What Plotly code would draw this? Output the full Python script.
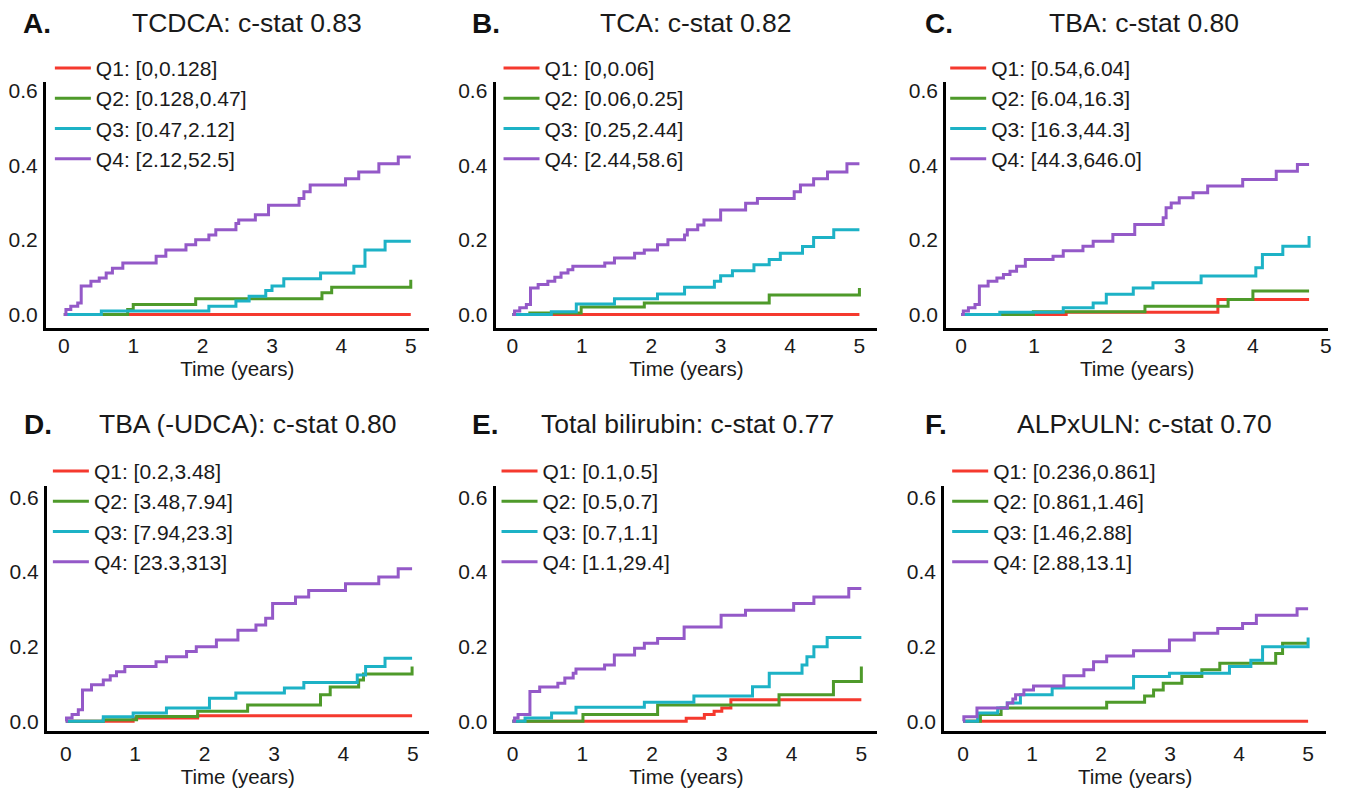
import plotly.graph_objects as go

# ---------------- data ----------------
panel_letters = ["A.", "B.", "C.", "D.", "E.", "F."]
panel_titles = ["TCDCA: c-stat 0.83", "TCA: c-stat 0.82", "TBA: c-stat 0.80",
                "TBA (-UDCA): c-stat 0.80", "Total bilirubin: c-stat 0.77", "ALPxULN: c-stat 0.70"]
quartile_names = ["Q1", "Q2", "Q3", "Q4"]
x_ticks = [0, 1, 2, 3, 4, 5]
y_ticks = [0.0, 0.2, 0.4, 0.6]
x_axis_label = "Time (years)"
follow_up_end = [5.0, 5.0, 4.77, 4.99, 5.0, 5.0]

tcdca_ranges = ["[0,0.128]", "[0.128,0.47]", "[0.47,2.12]", "[2.12,52.5]"]
tca_ranges = ["[0,0.06]", "[0.06,0.25]", "[0.25,2.44]", "[2.44,58.6]"]
tba_ranges = ["[0.54,6.04]", "[6.04,16.3]", "[16.3,44.3]", "[44.3,646.0]"]
udca_ranges = ["[0.2,3.48]", "[3.48,7.94]", "[7.94,23.3]", "[23.3,313]"]
bili_ranges = ["[0.1,0.5]", "[0.5,0.7]", "[0.7,1.1]", "[1.1,29.4]"]
alp_ranges = ["[0.236,0.861]", "[0.861,1.46]", "[1.46,2.88]", "[2.88,13.1]"]

# A. TCDCA
tcdca_q1_t = []
tcdca_q1_y = []
tcdca_q2_t = [0.92, 1.0, 1.9, 3.72, 3.86, 5.0]
tcdca_q2_y = [0.013, 0.027, 0.042, 0.058, 0.073, 0.093]
tcdca_q3_t = [0.54, 2.09, 2.48, 2.67, 2.91, 3.0, 3.17, 3.7, 4.18, 4.34, 4.63]
tcdca_q3_y = [0.009, 0.022, 0.036, 0.049, 0.064, 0.076, 0.096, 0.111, 0.129, 0.173, 0.196]
tcdca_q4_t = [0.03, 0.1, 0.2, 0.25, 0.39, 0.51, 0.61, 0.70, 0.85, 1.33, 1.47, 1.76, 1.90,
              2.09, 2.19, 2.48, 2.52, 2.76, 2.95, 3.39, 3.46, 3.55, 4.06, 4.25, 4.54, 4.82]
tcdca_q4_y = [0.013, 0.022, 0.031, 0.076, 0.089, 0.098, 0.111, 0.124, 0.138, 0.156, 0.173, 0.187, 0.2,
              0.213, 0.227, 0.244, 0.253, 0.267, 0.293, 0.311, 0.329, 0.347, 0.364, 0.382, 0.404, 0.422]

# B. TCA
tca_q1_t = []
tca_q1_y = []
tca_q2_t = [0.25, 0.99, 1.9, 3.7, 5.0]
tca_q2_y = [0.004, 0.02, 0.031, 0.052, 0.071]
tca_q3_t = [0.56, 0.92, 1.47, 2.09, 2.48, 2.91, 3.0, 3.17, 3.48, 3.7, 3.86, 4.18, 4.34, 4.63]
tca_q3_y = [0.007, 0.028, 0.042, 0.055, 0.073, 0.089, 0.104, 0.117, 0.133, 0.147, 0.164, 0.182, 0.206, 0.227]
tca_q4_t = [0.03, 0.105, 0.2, 0.26, 0.37, 0.51, 0.61, 0.70, 0.80, 0.87, 1.33, 1.47, 1.76, 1.90,
            2.09, 2.24, 2.48, 2.52, 2.67, 2.76, 3.0, 3.36, 3.53, 4.06, 4.15, 4.34, 4.54, 4.82]
tca_q4_y = [0.009, 0.018, 0.027, 0.071, 0.08, 0.089, 0.1, 0.111, 0.12, 0.129, 0.138, 0.151, 0.164, 0.173,
            0.187, 0.2, 0.213, 0.227, 0.24, 0.253, 0.28, 0.298, 0.311, 0.329, 0.347, 0.364, 0.382, 0.404]

# C. TBA
tba_q1_t = [1.44, 3.52]
tba_q1_y = [0.006, 0.04]
tba_q2_t = [0.99, 2.52, 3.66, 4.0]
tba_q2_y = [0.007, 0.022, 0.04, 0.063]
tba_q3_t = [0.53, 1.40, 1.81, 1.99, 2.36, 2.63, 3.29, 4.04, 4.13, 4.41, 4.77]
tba_q3_y = [0.006, 0.018, 0.031, 0.054, 0.071, 0.085, 0.103, 0.125, 0.161, 0.183, 0.21]
tba_q4_t = [0.03, 0.1, 0.19, 0.25, 0.37, 0.49, 0.58, 0.67, 0.76, 0.88, 1.26, 1.40, 1.67, 1.81,
            2.08, 2.38, 2.77, 2.81, 2.88, 2.99, 3.18, 3.38, 3.86, 4.32, 4.61]
tba_q4_y = [0.009, 0.018, 0.027, 0.076, 0.089, 0.098, 0.107, 0.116, 0.129, 0.147, 0.156, 0.171, 0.183, 0.196,
            0.214, 0.241, 0.259, 0.286, 0.299, 0.313, 0.326, 0.344, 0.362, 0.384, 0.402]

# D. TBA (-UDCA)
udca_q1_t = [0.97, 1.9]
udca_q1_y = [0.009, 0.015]
udca_q2_t = [0.54, 1.02, 1.9, 2.62, 3.67, 3.81, 4.22, 4.29, 4.99]
udca_q2_y = [0.004, 0.013, 0.027, 0.044, 0.071, 0.092, 0.111, 0.127, 0.147]
udca_q3_t = [0.54, 0.97, 1.45, 2.07, 2.45, 3.15, 3.43, 4.2, 4.32, 4.6]
udca_q3_y = [0.012, 0.022, 0.036, 0.062, 0.076, 0.089, 0.104, 0.124, 0.147, 0.169]
udca_q4_t = [0.01, 0.09, 0.18, 0.24, 0.37, 0.54, 0.64, 0.73, 0.85, 1.30, 1.45, 1.74, 1.88,
             2.17, 2.48, 2.74, 2.88, 2.98, 3.31, 3.50, 4.03, 4.51, 4.79]
udca_q4_y = [0.009, 0.018, 0.031, 0.084, 0.098, 0.111, 0.122, 0.133, 0.147, 0.16, 0.173, 0.187, 0.2,
             0.218, 0.244, 0.258, 0.276, 0.316, 0.333, 0.351, 0.369, 0.387, 0.409]

# E. Total bilirubin
bili_q1_t = [2.49, 2.75, 2.89, 3.0, 3.13]
bili_q1_y = [0.008, 0.018, 0.027, 0.036, 0.058]
bili_q2_t = [1.01, 2.08, 3.82, 4.6, 5.0]
bili_q2_y = [0.018, 0.044, 0.071, 0.107, 0.147]
bili_q3_t = [0.18, 0.56, 0.91, 1.89, 2.6, 3.44, 3.68, 4.15, 4.22, 4.32, 4.51]
bili_q3_y = [0.009, 0.022, 0.038, 0.051, 0.068, 0.093, 0.129, 0.151, 0.173, 0.2, 0.225]
bili_q4_t = [0.03, 0.08, 0.25, 0.39, 0.65, 0.75, 0.87, 0.91, 1.32, 1.46, 1.75, 1.89, 2.08,
             2.46, 2.99, 3.34, 4.03, 4.32, 4.82]
bili_q4_y = [0.009, 0.018, 0.08, 0.092, 0.102, 0.116, 0.129, 0.14, 0.151, 0.178, 0.196, 0.209, 0.222,
             0.253, 0.284, 0.298, 0.316, 0.333, 0.356]

# F. ALPxULN
alp_q1_t = []
alp_q1_y = []
alp_q2_t = [0.25, 0.55, 2.08, 2.63, 2.76, 2.9, 3.17, 3.46, 3.72, 4.53, 4.63]
alp_q2_y = [0.018, 0.036, 0.051, 0.068, 0.084, 0.102, 0.12, 0.138, 0.156, 0.182, 0.209]
alp_q3_t = [0.21, 0.5, 0.64, 0.83, 1.29, 2.47, 2.99, 3.86, 4.17, 4.34, 5.0]
alp_q3_y = [0.022, 0.036, 0.049, 0.071, 0.089, 0.12, 0.129, 0.147, 0.164, 0.2, 0.225]
alp_q4_t = [0.01, 0.2, 0.64, 0.72, 0.76, 0.88, 1.02, 1.46, 1.75, 1.89, 2.08, 2.47, 2.99,
            3.35, 3.69, 4.05, 4.25, 4.84]
alp_q4_y = [0.012, 0.036, 0.049, 0.06, 0.071, 0.084, 0.095, 0.122, 0.138, 0.16, 0.175, 0.189, 0.218,
            0.236, 0.249, 0.262, 0.284, 0.302]

panel_ranges = [tcdca_ranges, tca_ranges, tba_ranges, udca_ranges, bili_ranges, alp_ranges]
panel_curves = [
    [(tcdca_q1_t, tcdca_q1_y), (tcdca_q2_t, tcdca_q2_y), (tcdca_q3_t, tcdca_q3_y), (tcdca_q4_t, tcdca_q4_y)],
    [(tca_q1_t, tca_q1_y), (tca_q2_t, tca_q2_y), (tca_q3_t, tca_q3_y), (tca_q4_t, tca_q4_y)],
    [(tba_q1_t, tba_q1_y), (tba_q2_t, tba_q2_y), (tba_q3_t, tba_q3_y), (tba_q4_t, tba_q4_y)],
    [(udca_q1_t, udca_q1_y), (udca_q2_t, udca_q2_y), (udca_q3_t, udca_q3_y), (udca_q4_t, udca_q4_y)],
    [(bili_q1_t, bili_q1_y), (bili_q2_t, bili_q2_y), (bili_q3_t, bili_q3_y), (bili_q4_t, bili_q4_y)],
    [(alp_q1_t, alp_q1_y), (alp_q2_t, alp_q2_y), (alp_q3_t, alp_q3_y), (alp_q4_t, alp_q4_y)],
]

# ---------------- style / layout ----------------
PAGE_MARGIN = 8                      # default body margin of the html page
W, H = 1353 - 2 * PAGE_MARGIN, 796 - 2 * PAGE_MARGIN
FONT = "Arial, 'Liberation Sans', sans-serif"
colors = ["#F5392E", "#4E9A2A", "#1DB2C6", "#9459C8"]


def px(x):
    return (x - PAGE_MARGIN) / W


def py(y):
    return 1 - (y - PAGE_MARGIN) / H


# window-pixel boxes of each plot area: left, right, top, bottom ; x range ; y range
boxes = [
    (46, 430, 79, 327, [-0.259, 5.259], [-0.0373, 0.624]),
    (497, 880, 79, 327, [-0.244, 5.259], [-0.0373, 0.624]),
    (949, 1332, 79, 327, [-0.205, 5.03], [-0.0373, 0.624]),
    (47, 430, 485, 732, [-0.273, 5.23], [-0.0267, 0.632]),
    (497, 880, 485, 732, [-0.243, 5.23], [-0.0267, 0.632]),
    (947, 1330, 485, 732, [-0.275, 5.26], [-0.0267, 0.632]),
]
tick_standoff = [-4, -4, -4, 2, 2, 2]
title_standoff = [4, 4, 4, 3, 3, 3]
legend_pos = [(50, 45), (500, 45), (948, 45), (48, 450), (498, 450), (950, 450)]
title_pos = [(21, 248, 20), (471, 698, 20), (926, 1147, 20),
             (22, 248, 423), (471, 690, 423), (926, 1148, 423)]

fig = go.Figure()
layout = dict(
    width=W, height=H,
    margin=dict(l=0, r=0, t=0, b=0),
    paper_bgcolor="white", plot_bgcolor="white",
    font=dict(family=FONT, color="#1a1a1a"),
    annotations=[],
)

for i in range(6):
    n = i + 1
    xa = "x" if n == 1 else f"x{n}"
    ya = "y" if n == 1 else f"y{n}"
    lg = "legend" if n == 1 else f"legend{n}"
    for q in range(4):
        t, v = panel_curves[i][q]
        xs = [0.0] + list(t) + [follow_up_end[i]]
        ys = [0.0] + list(v) + [v[-1] if v else 0.0]
        fig.add_trace(go.Scatter(
            x=xs, y=ys, mode="lines", line=dict(color=colors[q], width=3, shape="hv"),
            name=f"{quartile_names[q]}: {panel_ranges[i][q]}",
            xaxis=xa, yaxis=ya, legend=lg, showlegend=True,
        ))
    l, r, tp, bt, xr, yr = boxes[i]
    layout["xaxis" if n == 1 else f"xaxis{n}"] = dict(
        domain=[px(l), px(r)], range=xr, anchor=ya,
        showline=True, linecolor="black", linewidth=3,
        showgrid=False, zeroline=False, ticks="",
        tickvals=x_ticks, ticktext=[str(k) for k in x_ticks],
        tickfont=dict(size=21, family=FONT, color="#1a1a1a"),
        ticklabelstandoff=tick_standoff[i],
        title=dict(text=x_axis_label, font=dict(size=20.5, family=FONT, color="#1a1a1a"),
                   standoff=title_standoff[i]),
        fixedrange=True,
    )
    layout["yaxis" if n == 1 else f"yaxis{n}"] = dict(
        domain=[py(bt), py(tp)], range=yr, anchor=xa,
        showline=True, linecolor="black", linewidth=3,
        showgrid=False, zeroline=False, ticks="",
        tickvals=y_ticks, ticktext=[f"{k:.1f}" for k in y_ticks],
        tickfont=dict(size=21, family=FONT, color="#1a1a1a"),
        ticklabelstandoff=1,
        fixedrange=True,
    )
    lx, ly = legend_pos[i]
    layout[lg] = dict(
        x=px(lx), y=py(ly), xanchor="left", yanchor="top",
        bgcolor="rgba(0,0,0,0)", borderwidth=0,
        font=dict(size=21, family=FONT, color="#1a1a1a"),
        tracegroupgap=0, itemwidth=36,
    )
    ax, tx, ty = title_pos[i]
    layout["annotations"].append(dict(
        x=px(ax), y=py(ty), xref="paper", yref="paper", xanchor="left", yanchor="middle",
        text=f"<b>{panel_letters[i]}</b>", showarrow=False, height=26, valign="middle",
        font=dict(size=28, family=FONT, color="#111111")))
    layout["annotations"].append(dict(
        x=px(tx), y=py(ty), xref="paper", yref="paper", xanchor="center", yanchor="middle",
        text=panel_titles[i], showarrow=False, height=26, valign="middle",
        font=dict(size=26.5, family=FONT, color="#1a1a1a")))

fig.update_layout(**layout)
fig.write_html("out.html")
